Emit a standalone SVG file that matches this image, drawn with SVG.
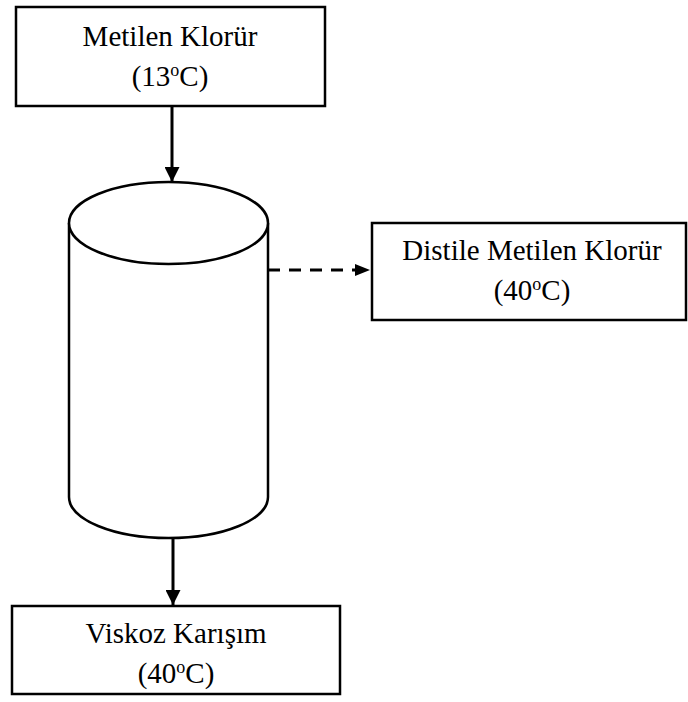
<svg xmlns="http://www.w3.org/2000/svg" width="688" height="702" viewBox="0 0 688 702">
  <style>
    .box { fill: #fff; stroke: #000; stroke-width: 2.5; }
    .vessel { fill: #fff; stroke: #000; stroke-width: 2.5; }
    .lbl { font-family: "Liberation Serif", "Times New Roman", serif; font-size: 29px; fill: #000; text-anchor: middle; }
    .sup { font-size: 18px; }
    .flow { stroke: #000; stroke-width: 3; fill: none; }
    .dash { stroke-dasharray: 12 9; }
  </style>
  <defs>
    <marker id="head" markerWidth="5" markerHeight="5" refX="5" refY="2.5" orient="auto" markerUnits="strokeWidth">
      <path d="M0,0 L5,2.5 L0,5 Z" fill="#000"/>
    </marker>
    <marker id="headSmall" markerWidth="5" markerHeight="4" refX="5" refY="2" orient="auto" markerUnits="strokeWidth">
      <path d="M0,0 L5,2 L0,4 Z" fill="#000"/>
    </marker>
  </defs>

  <g id="connectors">
    <line class="flow" x1="172" y1="106" x2="172" y2="182" marker-end="url(#head)"/>
    <line class="flow dash" x1="268" y1="270" x2="370" y2="270" marker-end="url(#headSmall)"/>
    <line class="flow" x1="173" y1="538" x2="173" y2="605" marker-end="url(#head)"/>
  </g>

  <g id="feed">
    <rect class="box" x="16" y="7" width="309" height="99"/>
    <text class="lbl" x="170" y="46">Metilen Klorür</text>
    <text class="lbl" x="170" y="86">(13<tspan class="sup" dy="-10">o</tspan><tspan dy="10">C)</tspan></text>
  </g>

  <g id="vessel">
    <path class="vessel" d="M69,223 L69,497 A99.5,41 0 0 0 268,497 L268,223"/>
    <ellipse class="vessel" cx="168.5" cy="223" rx="99.5" ry="41"/>
  </g>

  <g id="distillate">
    <rect class="box" x="372" y="223" width="314" height="97"/>
    <text class="lbl" x="532" y="260">Distile Metilen Klorür</text>
    <text class="lbl" x="532" y="300">(40<tspan class="sup" dy="-10">o</tspan><tspan dy="10">C)</tspan></text>
  </g>

  <g id="product">
    <rect class="box" x="12" y="606" width="328" height="88"/>
    <text class="lbl" x="176" y="643">Viskoz Karışım</text>
    <text class="lbl" x="176" y="683">(40<tspan class="sup" dy="-10">o</tspan><tspan dy="10">C)</tspan></text>
  </g>
</svg>
